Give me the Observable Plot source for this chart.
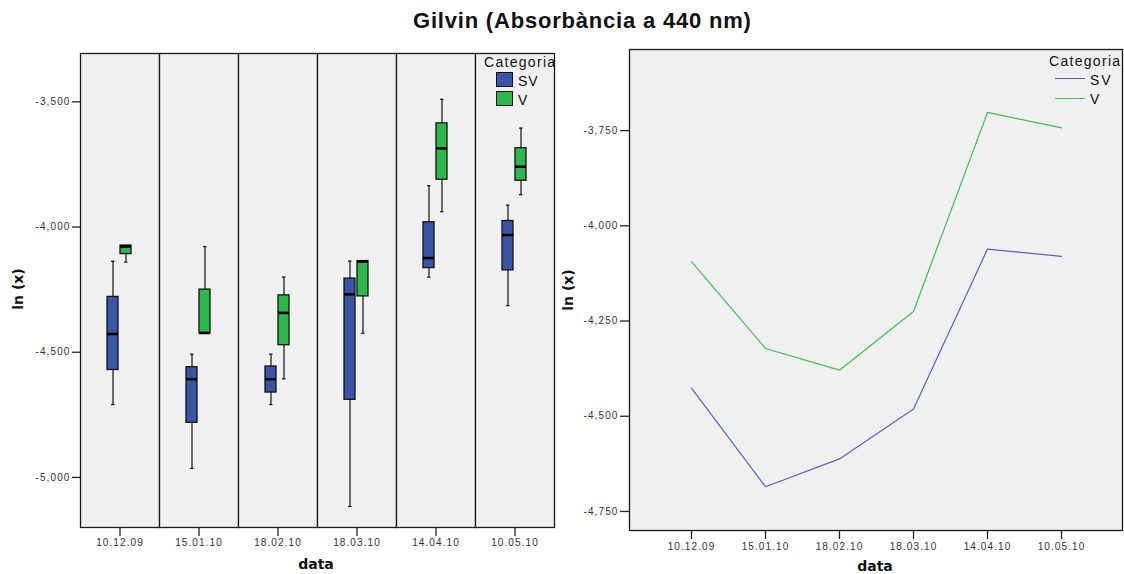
<!DOCTYPE html>
<html>
<head>
<meta charset="utf-8">
<script src="https://cdn.jsdelivr.net/npm/d3@7"></script>
<script src="https://cdn.jsdelivr.net/npm/@observablehq/plot@0.6"></script>
<style>
  body { margin: 0; background: #fff; }
  #wrap { position: relative; width: 1124px; height: 574px; overflow: hidden; background: #fff; font-family: "Liberation Sans", Arial, sans-serif; }
  .abs { position: absolute; white-space: nowrap; }
  #title { left: 413px; top: 10px; font-size: 22px; line-height: 22px; letter-spacing: 0.8px; font-weight: bold; color: #111; }
  .ylab { font-family: "DejaVu Sans", sans-serif; font-weight: bold; font-size: 14px; line-height: 14px; color: #111; transform: translate(-50%, -50%) rotate(-90deg); }
  .xlab { font-family: "DejaVu Sans", sans-serif; font-weight: bold; font-size: 14px; line-height: 14px; color: #111; transform: translate(-50%, -50%); }
  .legt { font-size: 14px; line-height: 14px; letter-spacing: 1.3px; color: #111; }
  .legl { font-size: 14px; line-height: 14px; letter-spacing: 1px; color: #111; }
  .sw { width: 17px; height: 15px; border: 1.3px solid #111; box-sizing: border-box; }
  .ln { height: 0; width: 30px; border-top: 1.5px solid; }
  #left, #right { position: absolute; top: 0; }
  #left { left: 0; }
  #right { left: 562px; }
</style>
</head>
<body>
<div id="wrap">
  <div id="left"></div>
  <div id="right"></div>
  <div class="abs" id="title">Gilvin (Absorbància a 440 nm)</div>
  <div class="abs ylab" style="left:18px; top:289px;">ln (x)</div>
  <div class="abs ylab" style="left:568px; top:290px;">ln (x)</div>
  <div class="abs xlab" style="left:316px; top:564px;">data</div>
  <div class="abs xlab" style="left:875px; top:566px;">data</div>

  <div class="abs legt" style="left:484px; top:55px;">Categoria</div>
  <div class="abs sw" id="swSV" style="left:496px; top:72px;"></div>
  <div class="abs sw" id="swV" style="left:496px; top:91px;"></div>
  <div class="abs legl" style="left:518px; top:74px;">SV</div>
  <div class="abs legl" style="left:518px; top:93px;">V</div>

  <div class="abs legt" style="left:1049px; top:54px;">Categoria</div>
  <div class="abs ln" id="lnSV" style="left:1055px; top:78px;"></div>
  <div class="abs ln" id="lnV" style="left:1055px; top:98px;"></div>
  <div class="abs legl" style="left:1090px; top:73px; letter-spacing:2px;">SV</div>
  <div class="abs legl" style="left:1090px; top:92px;">V</div>
</div>
<script>
// ---- data ----
const dates = ["10.12.09", "15.01.10", "18.02.10", "18.03.10", "14.04.10", "10.05.10"];
const categories = ["SV", "V"];

// Box plot summaries (ln x) per date
const svMin = [-4.709, -4.964, -4.709, -5.116, -4.200, -4.314];
const svQ1  = [-4.571, -4.782, -4.661, -4.690, -4.164, -4.173];
const svMed = [-4.427, -4.608, -4.608, -4.269, -4.124, -4.032];
const svQ3  = [-4.279, -4.560, -4.557, -4.206, -3.981, -3.976];
const svMax = [-4.137, -4.508, -4.508, -4.136, -3.835, -3.913];

const vMin = [-4.140, -4.425, -4.606, -4.424, -3.939, -3.871];
const vQ1  = [-4.108, -4.425, -4.472, -4.277, -3.811, -3.815];
const vMed = [-4.078, -4.423, -4.343, -4.138, -3.686, -3.759];
const vQ3  = [-4.074, -4.250, -4.273, -4.136, -3.586, -3.685];
const vMax = [-4.074, -4.078, -4.200, -4.136, -3.490, -3.605];

// Mean line (ln x) per date
const svMean = [-4.426, -4.685, -4.612, -4.481, -4.061, -4.080];
const vMean  = [-4.094, -4.322, -4.379, -4.225, -3.702, -3.743];

const leftTicks = [-5.0, -4.5, -4.0, -3.5];
const rightTicks = [-4.75, -4.5, -4.25, -4.0, -3.75];

// ---- styles ----
const boxColors = ["#3b55a6", "#2eb84b"];
const lineColors = ["#4f66c4", "#3cc04a"];
const panelBg = "#f0f0f0";
const fmt = d => d.toFixed(3).replace(".", ",");

document.getElementById("swSV").style.background = boxColors[0];
document.getElementById("swV").style.background = boxColors[1];
document.getElementById("lnSV").style.borderColor = lineColors[0];
document.getElementById("lnV").style.borderColor = lineColors[1];

const boxes = [];
dates.forEach((d, i) => {
  boxes.push({date: d, cat: "SV", min: svMin[i], q1: svQ1[i], med: svMed[i], q3: svQ3[i], max: svMax[i]});
  boxes.push({date: d, cat: "V", min: vMin[i], q1: vQ1[i], med: vMed[i], q3: vQ3[i], max: vMax[i]});
});

const means = [];
categories.forEach((c, k) => {
  const arr = k === 0 ? svMean : vMean;
  dates.forEach((d, i) => means.push({date: d, cat: c, mean: arr[i]}));
});

const svgStyle = {
  fontFamily: "'Liberation Sans', Arial, sans-serif",
  fontSize: "10px",
  letterSpacing: "1.1px",
  color: "#333",
  background: "transparent",
  overflow: "visible"
};

const left = Plot.plot({
  width: 562, height: 574,
  marginLeft: 77, marginRight: 6, marginTop: 53, marginBottom: 47,
  style: svgStyle,
  fx: {domain: dates, padding: 0},
  x: {domain: categories, paddingInner: 0.15, paddingOuter: 1.925, axis: null},
  y: {domain: [-5.2, -3.307]},
  color: {domain: categories, range: boxColors},
  marks: [
    Plot.frame({fill: panelBg, stroke: "#1a1a1a", strokeWidth: 1.3}),
    Plot.ruleX(boxes, {fx: "date", x: "cat", y1: "min", y2: "max", stroke: "#111", strokeWidth: 1.2}),
    Plot.tickY(boxes, {fx: "date", x: "cat", y: "min", stroke: "#111", strokeWidth: 1.2, insetLeft: 4, insetRight: 3.5}),
    Plot.tickY(boxes, {fx: "date", x: "cat", y: "max", stroke: "#111", strokeWidth: 1.2, insetLeft: 4, insetRight: 3.5}),
    Plot.barY(boxes, {fx: "date", x: "cat", y1: "q1", y2: "q3", fill: "cat", stroke: "#111", strokeWidth: 1.3}),
    Plot.tickY(boxes, {fx: "date", x: "cat", y: "med", stroke: "#000", strokeWidth: 2.6}),
    Plot.axisY({ticks: leftTicks, tickFormat: fmt, tickSize: 8, tickPadding: 2, label: null, stroke: "#222", strokeWidth: 1.3}),
    Plot.axisFx({anchor: "bottom", tickSize: 9, tickPadding: 2, label: null, stroke: "#222", strokeWidth: 1.3})
  ]
});
document.getElementById("left").appendChild(left);

const right = Plot.plot({
  width: 562, height: 574,
  marginLeft: 67, marginRight: 2, marginTop: 49, marginBottom: 44,
  style: svgStyle,
  x: {domain: dates, type: "point", padding: 0.83},
  y: {domain: [-4.8, -3.537]},
  color: {domain: categories, range: lineColors},
  marks: [
    Plot.frame({fill: panelBg, stroke: "#1a1a1a", strokeWidth: 1.3}),
    Plot.line(means, {x: "date", y: "mean", z: "cat", stroke: "cat", strokeWidth: 1.2}),
    Plot.axisY({ticks: rightTicks, tickFormat: fmt, tickSize: 9, tickPadding: 2, label: null, stroke: "#222", strokeWidth: 1.3}),
    Plot.axisX({tickSize: 9, tickPadding: 3, label: null, stroke: "#222", strokeWidth: 1.3})
  ]
});
document.getElementById("right").appendChild(right);
</script>
</body>
</html>
